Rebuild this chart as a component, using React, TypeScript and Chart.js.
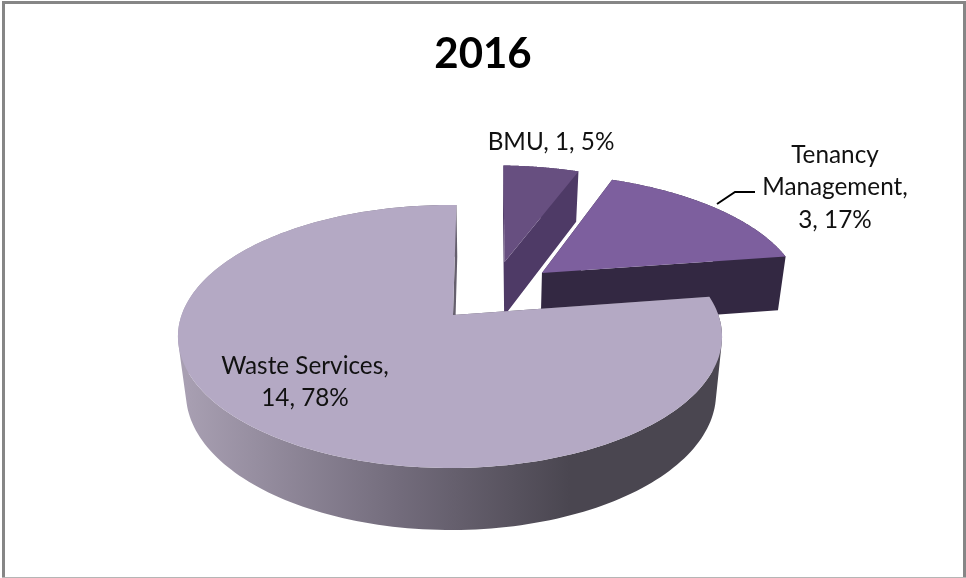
import React, { useEffect, useRef } from "react";
import { Chart, registerables } from "chart.js";

Chart.register(...registerables);

const categories = ["Waste Services", "BMU", "Tenancy Management"];
const values = [14, 1, 3];
const percents = [78, 5, 17];
const chartTitle = "2016";

const topColors = ["#b4a9c4", "#674f80", "#7d5f9e"];
const wallColors = ["#4a4650", "#4e3a66", "#332842"];

// perspective of the tilted disc
const K = 0.1635;
const TOP = { ex: 450, ey: 315, a: 268.4, b: 128 };
const BOTTOM = { ex: 451, ey: 371, a: 261.5, b: 133 };
// explosion of each slice in disc units
const SHIFT = [
  [0, 0],
  [0.218, 0.444],
  [0.362, 0.347],
];
// small pixel correction of each slice's tip
const TIP = [3, 0, 0];
const LABEL_POS = [
  { x: 305, y: 366 },
  { x: 551, y: 142 },
  { x: 835, y: 155 },
];

type Plane = typeof TOP;
type Pt = [number, number];
const project = (p: Plane, u: number, v: number): Pt => {
  const w = 1 + K * v;
  return [p.ex + (p.a * u) / w, p.ey - (p.b * v) / w];
};

function addPoly(ctx: CanvasRenderingContext2D, pts: Pt[]) {
  // every sub-path gets the same winding so overlaps never cancel
  let area = 0;
  pts.forEach(([x, y], i) => {
    const [nx, ny] = pts[(i + 1) % pts.length];
    area += x * ny - nx * y;
  });
  const list = area < 0 ? pts.slice().reverse() : pts;
  list.forEach(([x, y], i) => (i ? ctx.lineTo(x, y) : ctx.moveTo(x, y)));
  ctx.closePath();
}

const pie3d = {
  id: "pie3d",
  beforeDraw(chart: any) {
    const { ctx, width, height } = chart;
    ctx.save();
    ctx.fillStyle = "#ffffff";
    ctx.fillRect(0, 0, width, height);
    ctx.fillStyle = "#868686";
    ctx.fillRect(2, 1, width - 2, 3);
    ctx.fillRect(2, 1, 3, height - 1);
    ctx.fillRect(width - 3, 1, 3, height - 1);
    ctx.fillStyle = "#b5b5b5";
    ctx.fillRect(2, height - 1, width - 2, 1);
    ctx.restore();
  },
  beforeDatasetsDraw(chart: any) {
    const { ctx } = chart;
    const arcs = chart.getDatasetMeta(0).data;
    // far slices first, the large one last
    [1, 2, 0].forEach((i) => {
      const arc = arcs[i];
      const { startAngle, endAngle } = arc.getProps(["startAngle", "endAngle"], true);
      const [du, dv] = SHIFT[i];
      const rim = (p: Plane, a: number) => project(p, du + Math.cos(a), dv - Math.sin(a));
      const steps = 200;
      const angles: number[] = [];
      for (let s = 0; s <= steps; s++) angles.push(startAngle + ((endAngle - startAngle) * s) / steps);
      const tip = (pt: Pt): Pt => [pt[0] + TIP[i], pt[1]];
      const apexT = tip(project(TOP, du, dv));
      const apexB = tip(project(BOTTOM, du, dv));

      let wall: any = wallColors[i];
      if (i === 0) {
        const g = ctx.createLinearGradient(186, 0, 570, 0);
        g.addColorStop(0, "#a89fb2");
        g.addColorStop(0.55, "#736c7c");
        g.addColorStop(1, "#4a4650");
        wall = g;
      }
      ctx.save();
      ctx.fillStyle = wall;
      ctx.beginPath();
      [startAngle, endAngle].forEach((a) => {
        addPoly(ctx, [apexT, rim(TOP, a), rim(BOTTOM, a), apexB]);
      });
      for (let s = 0; s < steps; s++) {
        addPoly(ctx, [
          rim(TOP, angles[s]),
          rim(TOP, angles[s + 1]),
          rim(BOTTOM, angles[s + 1]),
          rim(BOTTOM, angles[s]),
        ]);
      }
      ctx.fill();
      // top face
      ctx.beginPath();
      addPoly(ctx, [apexT, ...angles.map((a) => rim(TOP, a))]);
      ctx.fillStyle = arc.options.backgroundColor;
      ctx.fill();
      ctx.restore();
    });

    // leader line of the Tenancy Management label
    ctx.save();
    ctx.strokeStyle = "#000000";
    ctx.lineWidth = 2;
    ctx.beginPath();
    ctx.moveTo(717, 204);
    ctx.lineTo(735, 192);
    ctx.lineTo(755, 192);
    ctx.stroke();

    // data labels
    ctx.fillStyle = "#111111";
    ctx.font = '24.3px Lato, "Open Sans", sans-serif';
    ctx.textAlign = "center";
    ctx.textBaseline = "middle";
    categories.forEach((name, i) => {
      const tail = `${values[i]}, ${percents[i]}%`;
      const spec = LABEL_POS[i];
      let lines: string[];
      if (i === 0) lines = [name + ",", tail];
      else if (i === 1) lines = [`${name}, ${tail}`];
      else {
        const parts = name.split(" ");
        lines = [parts[0], parts[1] + ",", tail];
      }
      lines.forEach((l, k) => ctx.fillText(l, spec.x, spec.y + k * 32.5));
    });
    ctx.restore();
    return false;
  },
};

export default function App() {
  const ref = useRef<HTMLCanvasElement>(null);
  useEffect(() => {
    document.body.style.margin = "0";
    const chart = new Chart(ref.current!, {
      type: "pie",
      data: {
        labels: categories,
        datasets: [{ data: values, backgroundColor: topColors, borderWidth: 0 }],
      },
      options: {
        responsive: false,
        animation: false,
        rotation: 81.6,
        devicePixelRatio: 1,
        plugins: {
          legend: { display: false },
          tooltip: { enabled: false },
          title: {
            display: true,
            text: chartTitle,
            color: "#000000",
            font: { family: 'Lato, "Open Sans", sans-serif', size: 42, weight: "bold" },
            padding: { top: 29, bottom: 10 },
          },
        },
      } as any,
      plugins: [pie3d as any],
    });
    return () => chart.destroy();
  }, []);
  return <canvas ref={ref} width={966} height={578} style={{ display: "block" }} />;
}
